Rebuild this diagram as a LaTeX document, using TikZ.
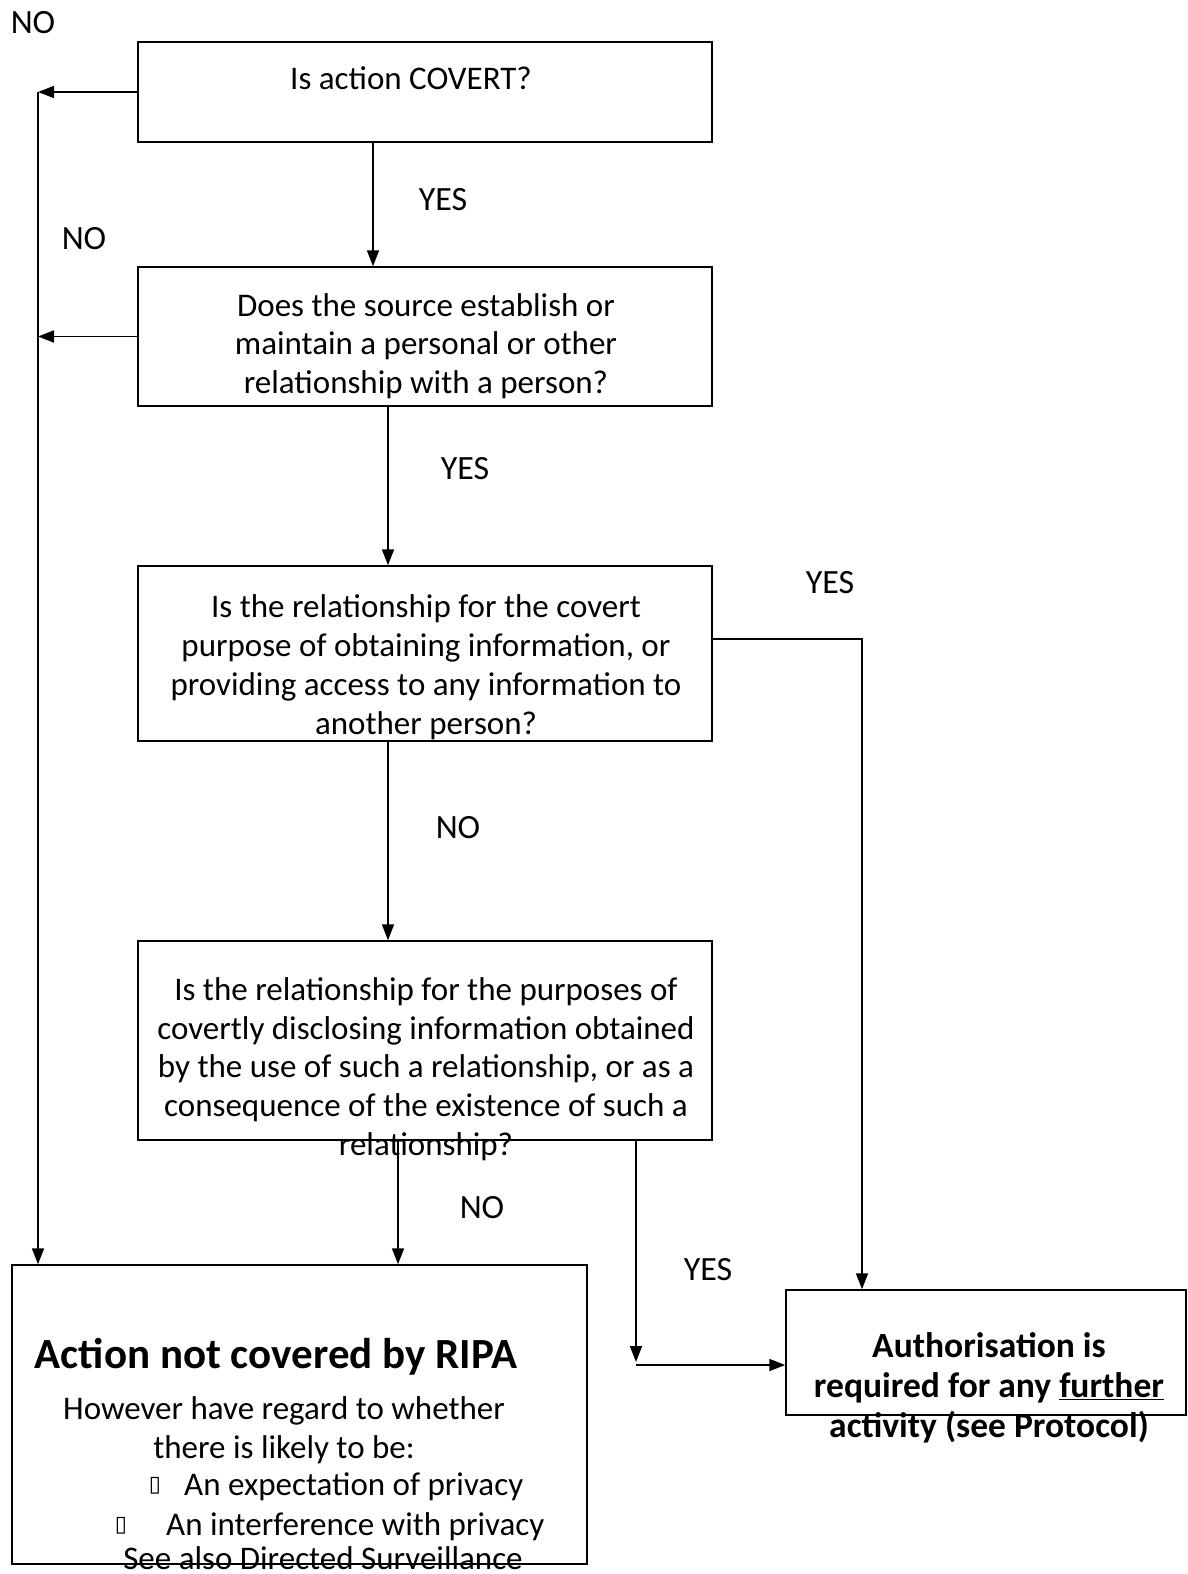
\documentclass[tikz,border=0pt]{standalone}
\usepackage{fontspec}
\setmainfont{Carlito}
\newfontfamily\symfont{DejaVu Sans}
\usetikzlibrary{arrows.meta}
\begin{document}
\begin{tikzpicture}[x=1pt,y=-1pt,
  box/.style={draw,line width=1.5pt,rectangle,inner sep=0pt},
  arr/.style={line width=1.7pt,-{Triangle[length=16pt,width=12pt]}},
  txt/.style={font=\fontsize{33}{38.8}\selectfont,align=center,inner sep=0pt},
  btxt/.style={font=\fontsize{35.5}{40}\selectfont\bfseries,align=center,inner sep=0pt},
  lbl/.style={font=\fontsize{34}{36}\selectfont,inner sep=0pt}]
\useasboundingbox (0,0) rectangle (1187,1574);
% boxes
\node[box,minimum width=574pt,minimum height=100pt] (b1) at (425,92) {};
\node[box,minimum width=574pt,minimum height=139pt] (b2) at (425,336.5) {};
\node[box,minimum width=574pt,minimum height=175pt] (b3) at (425,653.5) {};
\node[box,minimum width=574pt,minimum height=199pt] (b4) at (425,1040.5) {};
\node[box,minimum width=575pt,minimum height=299pt] (b5) at (299.5,1414.5) {};
\node[box,minimum width=400pt,minimum height=125pt] (b6) at (986,1352.5) {};
% texts
\node[txt] (t1) at (411,78) {Is action COVERT?};
\node[txt] (t2) at (426,346) {Does the source establish or\\maintain a personal or other\\relationship with a person?};
\node[txt] (t3) at (426,667) {Is the relationship for the covert\\purpose of obtaining information, or\\providing access to any information to\\another person?};
\node[txt] (t4) at (426,1069) {Is the relationship for the purposes of\\covertly disclosing information obtained\\by the use of such a relationship, or as a\\consequence of the existence of such a\\relationship?};
\node[btxt,font=\fontsize{43}{48}\selectfont\bfseries] (t5h) at (276,1357) {Action not covered by RIPA};
\node[txt] (t5a) at (284,1430) {However have regard to whether\\there is likely to be:};
\node[txt,font=\fontsize{22}{24}\selectfont\symfont] (bu1) at (155,1486) {▯};
\node[txt,anchor=west] (t5b) at (184,1487) {An expectation of privacy};
\node[txt,font=\fontsize{22}{24}\selectfont\symfont] (bu2) at (121,1526) {▯};
\node[txt,anchor=west] (t5c) at (166,1527) {An interference with privacy};
\node[txt,anchor=base] (t5d) at (323,1569) {See also Directed Surveillance};
\node[btxt] (t6) at (989,1388) {Authorisation is\\required for any \underline{further}\\activity (see Protocol)};
% labels
\node[lbl] (n0) at (33,23) {NO};
\node[lbl] (y1) at (443,200) {YES};
\node[lbl] (n1) at (84,239) {NO};
\node[lbl] (y2) at (465,469) {YES};
\node[lbl] (y3) at (830,583) {YES};
\node[lbl] (n3) at (458,828) {NO};
\node[lbl] (n4) at (482,1208) {NO};
\node[lbl] (y4) at (708,1270) {YES};
% connector coordinates
\coordinate (L) at (38,0);
\coordinate (c1) at (373,0);
\coordinate (c2) at (388,0);
\coordinate (c3) at (398,0);
\coordinate (c4) at (636,0);
\coordinate (c5) at (862,0);
\coordinate (r3) at (0,639);
\coordinate (h4) at (0,1365);
\coordinate (e4) at (636,1362);
% connectors
\draw[arr] (b1.west) -- (b1.west -| L);
\draw[arr] (b2.west) -- (b2.west -| L);
\draw[arr] (b1.west -| L) -- (b5.north -| L);
\draw[arr] (b1.south -| c1) -- (b2.north -| c1);
\draw[arr] (b2.south -| c2) -- (b3.north -| c2);
\draw[arr] (b3.south -| c2) -- (b4.north -| c2);
\draw[arr] (b4.south -| c3) -- (b5.north -| c3);
\draw[arr] (b4.south -| c4) -- (e4);
\draw[arr] (h4 -| c4) -- (b6.west |- h4);
\draw[arr] (b3.east |- r3) -- (r3 -| c5) -- (b6.north -| c5);
\end{tikzpicture}
\end{document}
